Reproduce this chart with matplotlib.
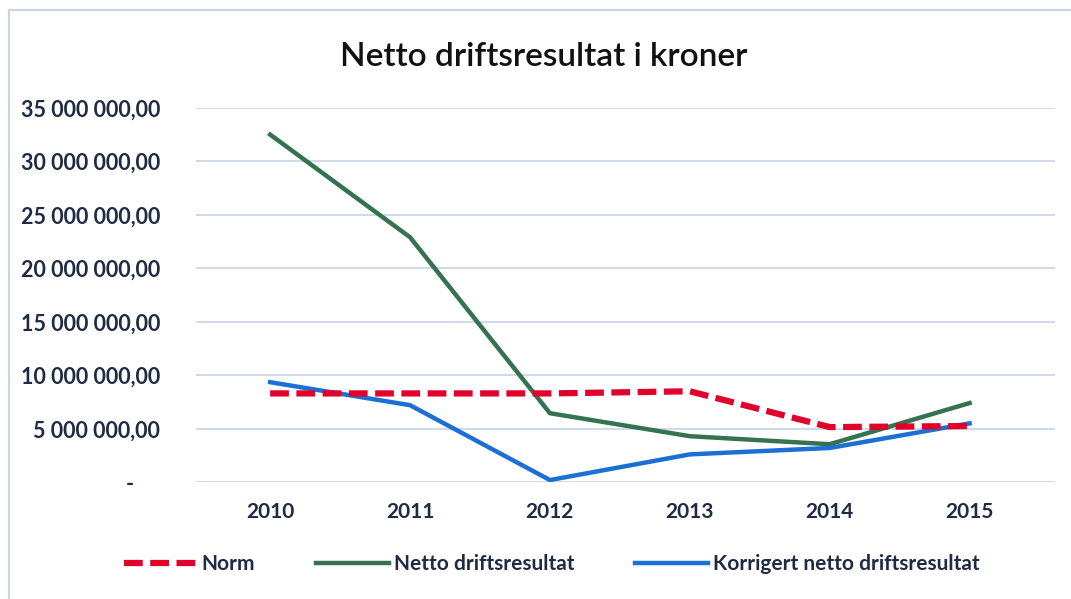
import matplotlib
matplotlib.use('Agg')
import matplotlib.pyplot as plt
from matplotlib.ticker import FuncFormatter, MultipleLocator

years = ['2010', '2011', '2012', '2013', '2014', '2015']
norm = [8300000, 8300000, 8300000, 8500000, 5150000, 5250000]
netto = [32500000, 22900000, 6450000, 4300000, 3550000, 7400000]
korrigert = [9350000, 7200000, 200000, 2600000, 3200000, 5500000]

text_col = '#1f2a44'
plt.rcParams['font.family'] = ['Lato', 'DejaVu Sans']

fig = plt.figure(figsize=(10.71, 5.99), dpi=100)
ax = fig.add_axes([0.183, 0.195, 0.802, 0.625])

x = list(range(len(years)))
ax.plot(x, norm, color='#e0022b', lw=4.5, ls=(0, (3.0, 1.2)), label='Norm', zorder=3)
ax.plot(x, netto, color='#357250', lw=3.2, label='Netto driftsresultat', zorder=2)
ax.plot(x, korrigert, color='#1c6fd3', lw=3.2, label='Korrigert netto driftsresultat', zorder=2)

ax.set_xlim(-0.53, 5.61)
ax.set_ylim(0, 35000000)
ax.yaxis.set_major_locator(MultipleLocator(5000000))


def fmt(v, pos):
    if v == 0:
        return '-     '
    return f'{v:,.2f}'.replace(',', ' ').replace('.', ',')


ax.yaxis.set_major_formatter(FuncFormatter(fmt))
ax.set_xticks(x)
ax.set_xticklabels(years)
ax.grid(axis='y', color='#c8d3e6', lw=1.2)
ax.set_axisbelow(True)
for s in ax.spines.values():
    s.set_visible(False)
ax.tick_params(axis='y', length=0, pad=26, labelsize=15.5, labelcolor=text_col)
ax.tick_params(axis='x', length=0, pad=14, labelsize=15, labelcolor=text_col)
for lab in ax.get_xticklabels() + ax.get_yticklabels():
    lab.set_fontweight('bold')

fig.text(0.508, 0.905, 'Netto driftsresultat i kroner', ha='center', va='center',
         fontsize=24, color='#111111', fontweight='semibold')

leg = fig.legend(loc='center', bbox_to_anchor=(0.515, 0.058), ncol=3, frameon=False,
                 fontsize=15, handlelength=3.5, handletextpad=0.25, columnspacing=2.9)
for t in leg.get_texts():
    t.set_color(text_col)
    t.set_fontweight('bold')

# light frame round the chart
fig.add_artist(plt.Line2D([0.008, 0.008], [0.0, 0.984], color='#c8d3e6', lw=1.5))
fig.add_artist(plt.Line2D([0.008, 1.0], [0.984, 0.984], color='#c8d3e6', lw=1.5))

fig.savefig('out.png', dpi=100)
